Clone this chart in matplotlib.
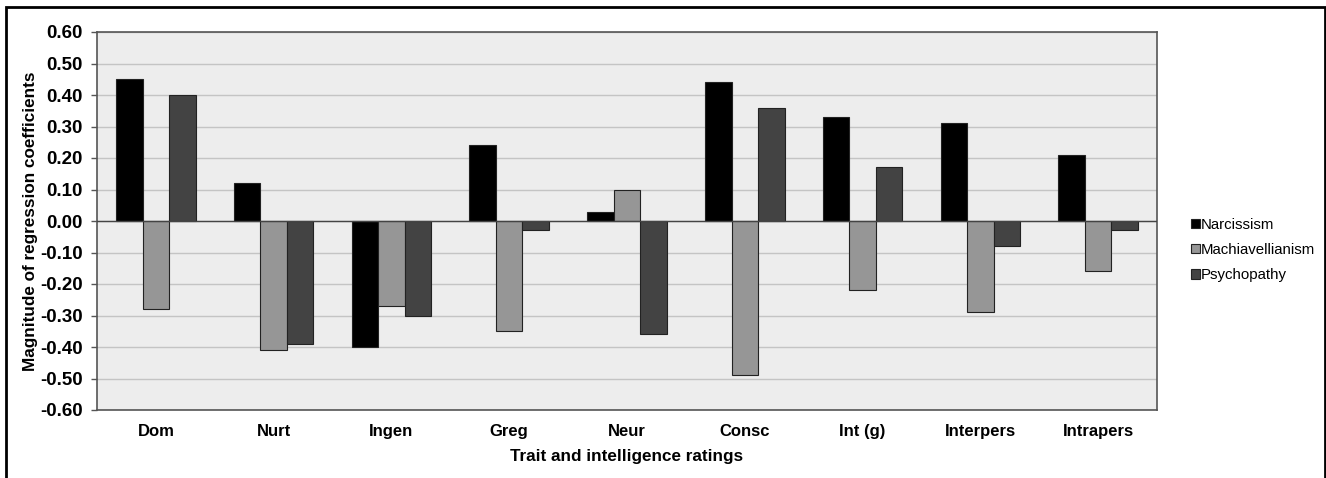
import matplotlib
matplotlib.use("Agg")
import matplotlib.pyplot as plt
import numpy as np
from matplotlib.patches import Rectangle

categories = ["Dom", "Nurt", "Ingen", "Greg", "Neur", "Consc", "Int (g)", "Interpers", "Intrapers"]
narcissism = [0.45, 0.12, -0.40, 0.24, 0.03, 0.44, 0.33, 0.31, 0.21]
machiavellianism = [-0.28, -0.41, -0.27, -0.35, 0.10, -0.49, -0.22, -0.29, -0.16]
psychopathy = [0.40, -0.39, -0.30, -0.03, -0.36, 0.36, 0.17, -0.08, -0.03]
series_names = ["Narcissism", "Machiavellianism", "Psychopathy"]
colors = ["#000000", "#969696", "#434343"]
yticks = [-0.6, -0.5, -0.4, -0.3, -0.2, -0.1, 0.0, 0.1, 0.2, 0.3, 0.4, 0.5, 0.6]

plt.rcParams['font.family'] = ['Liberation Sans', 'DejaVu Sans']

fig = plt.figure(figsize=(13.26, 4.78), dpi=100)
ax = fig.add_axes([97/1326, 1-410/478, (1157-97)/1326, (410-32)/478])
ax.set_facecolor("#ededed")

x = np.arange(len(categories))
w = 0.225
data = [narcissism, machiavellianism, psychopathy]
handles = []
for i, (vals, c, name) in enumerate(zip(data, colors, series_names)):
    b = ax.bar(x + (i - 1) * w, vals, width=w, color=c, edgecolor="#222222",
               linewidth=0.8, label=name, zorder=3)
    handles.append(b)

ax.set_xlim(-0.5, len(categories) - 0.5)
ax.set_ylim(-0.6, 0.6)
ax.set_yticks(yticks)
ax.set_yticklabels([f"{v:.2f}" for v in yticks], fontsize=13.5, fontweight="bold")
ax.set_xticks(x)
ax.set_xticklabels(categories, fontsize=12, fontweight="bold")
ax.tick_params(axis="x", length=0, pad=10)
ax.tick_params(axis="y", length=4, width=1, color="#555555", pad=6)
ax.yaxis.grid(True, color="#c4c4c4", linewidth=1, zorder=0)
ax.set_axisbelow(True)
ax.axhline(0, color="#444444", linewidth=1, zorder=4)
for s in ax.spines.values():
    s.set_color("#555555")
    s.set_linewidth(1.2)

ax.set_ylabel("Magnitude of regression coefficients", fontsize=12.3, fontweight="bold", labelpad=2)
ax.set_xlabel("Trait and intelligence ratings", fontsize=12.3, fontweight="bold", labelpad=7)

leg = fig.legend(handles=handles, labels=series_names, loc="center left",
                 bbox_to_anchor=(1177/1326, 1-250/478), frameon=False,
                 fontsize=10.8, handlelength=0.6, handleheight=0.6, handletextpad=0.1,
                 labelspacing=0.75)

fig.patches.append(Rectangle((6/1326, -0.05), (1325-6)/1326, 1.05 - 7/478,
                             transform=fig.transFigure, fill=False,
                             edgecolor="black", linewidth=2))

fig.savefig("out.png", dpi=100)
